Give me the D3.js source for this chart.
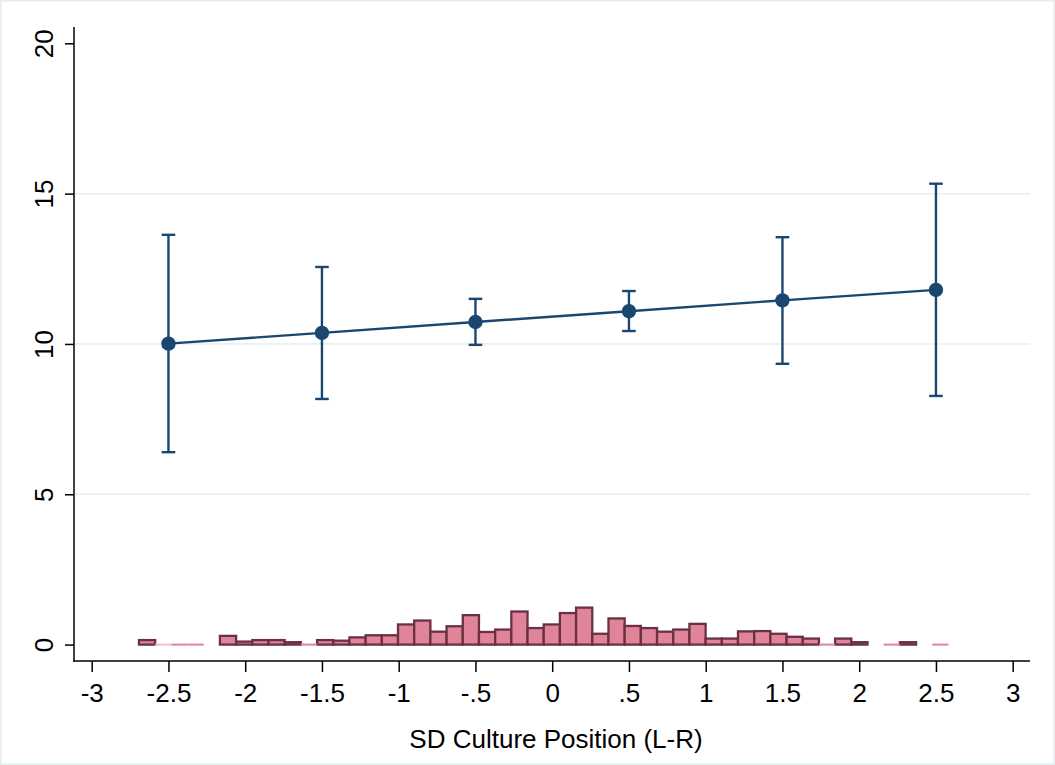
<!DOCTYPE html>
<html>
<head>
<meta charset="utf-8">
<script src="https://cdn.jsdelivr.net/npm/d3@7"></script>
<style>
  html, body { margin: 0; padding: 0; background: #ffffff; }
  svg { display: block; }
  text { font-family: "Liberation Sans", Arial, Helvetica, sans-serif; fill: #000; }
</style>
</head>
<body>
<svg id="chart" width="1055" height="765"></svg>
<script>
// Predicted values at each culture position, with 95% confidence limits
const positions = [-2.5, -1.5, -0.5, 0.5, 1.5, 2.5];
const estimates = [10.01, 10.37, 10.73, 11.09, 11.45, 11.80];
const ciLower   = [6.40, 8.17, 9.97, 10.43, 9.34, 8.27];
const ciUpper   = [13.63, 12.56, 11.50, 11.76, 13.55, 15.33];

// Distribution of culture position (histogram drawn along the bottom)
const binStart = -2.692;
const binWidth = 0.10547;
const binHeights = [
  0.15, 0, 0, 0, null, 0.29, 0.10, 0.15, 0.15, 0.08,
  0, 0.15, 0.13, 0.24, 0.31, 0.31, 0.67, 0.80, 0.43, 0.61,
  0.98, 0.42, 0.50, 1.10, 0.55, 0.67, 1.05, 1.23, 0.36, 0.87,
  0.62, 0.55, 0.43, 0.50, 0.69, 0.20, 0.20, 0.44, 0.45, 0.36,
  0.26, 0.20, 0, 0.20, 0.08, null, 0, 0.08, null, 0
];

// Axis ticks
const xTicks = [-3, -2.5, -2, -1.5, -1, -0.5, 0, 0.5, 1, 1.5, 2, 2.5, 3];
const xTickLabels = ["-3", "-2.5", "-2", "-1.5", "-1", "-.5", "0", ".5", "1", "1.5", "2", "2.5", "3"];
const yTicks = [0, 5, 10, 15, 20];
const yGrid = [5, 10, 15];
const xTitle = "SD Culture Position (L-R)";

const svg = d3.select("#chart");
const W = 1055, H = 765;
const fontSize = "26px";

// plot region edges
const plotLeft = 74, plotRight = 1030, plotTop = 27, plotBottom = 661;

const x = d3.scaleLinear().domain([-3, 3]).range([91.7, 1012.7]);
const y = d3.scaleLinear().domain([0, 20]).range([644.6, 43.3]);

const navy = "#1a476f";
const pinkFill = "#e0849a";
const maroon = "#6a3144";

// outer frame
svg.append("rect")
  .attr("x", 0.75).attr("y", 0.75)
  .attr("width", W - 1.5).attr("height", H - 1.5)
  .attr("fill", "#ffffff")
  .attr("stroke", "#e4ecef").attr("stroke-width", 1.5);

// horizontal gridlines
svg.append("g").selectAll("line")
  .data(yGrid).join("line")
  .attr("x1", plotLeft).attr("x2", plotRight)
  .attr("y1", d => y(d)).attr("y2", d => y(d))
  .attr("stroke", "#e6eef1").attr("stroke-width", 1.5);

// histogram
const bins = binHeights.map((h, i) => ({
  x0: binStart + i * binWidth,
  x1: binStart + (i + 1) * binWidth,
  h: h
}));

const hist = svg.append("g");
hist.selectAll("rect.bar")
  .data(bins.filter(b => b.h !== null && b.h > 0)).join("rect")
  .attr("class", "bar")
  .attr("x", d => x(d.x0))
  .attr("width", d => x(d.x1) - x(d.x0))
  .attr("y", d => y(d.h))
  .attr("height", d => y(0) - y(d.h))
  .attr("fill", pinkFill)
  .attr("stroke", maroon)
  .attr("stroke-width", 2.3);

// empty bins show only as a flat pink line on the baseline
hist.selectAll("line.empty")
  .data(bins.filter(b => b.h === 0)).join("line")
  .attr("class", "empty")
  .attr("x1", d => x(d.x0)).attr("x2", d => x(d.x1))
  .attr("y1", y(0)).attr("y2", y(0))
  .attr("stroke", (d, i) => i === 0 ? "#efc1cc" : pinkFill)
  .attr("stroke-width", 2);

// confidence intervals
const ci = svg.append("g").attr("stroke", navy).attr("stroke-width", 2.4).attr("fill", "none");
positions.forEach((p, i) => {
  ci.append("line")
    .attr("x1", x(p)).attr("x2", x(p))
    .attr("y1", y(ciLower[i])).attr("y2", y(ciUpper[i]));
  [ciLower[i], ciUpper[i]].forEach(v => {
    ci.append("line")
      .attr("x1", x(p) - 6.8).attr("x2", x(p) + 6.8)
      .attr("y1", y(v)).attr("y2", y(v));
  });
});

// connecting line
const line = d3.line().x(d => x(d[0])).y(d => y(d[1]));
svg.append("path")
  .datum(positions.map((p, i) => [p, estimates[i]]))
  .attr("d", line)
  .attr("fill", "none")
  .attr("stroke", navy)
  .attr("stroke-width", 2.4);

// point estimates
svg.append("g").selectAll("circle")
  .data(positions.map((p, i) => [p, estimates[i]])).join("circle")
  .attr("cx", d => x(d[0]))
  .attr("cy", d => y(d[1]))
  .attr("r", 7.2)
  .attr("fill", navy);

// y axis
const yAxis = svg.append("g").attr("transform", `translate(${plotLeft},0)`)
  .call(d3.axisLeft(y).tickValues(yTicks).tickSize(9).tickFormat(d3.format("d")));
yAxis.select(".domain").remove();
yAxis.selectAll(".tick line").attr("stroke", "#000").attr("stroke-width", 1.5);
yAxis.selectAll(".tick text")
  .attr("x", null).attr("dy", null)
  .attr("text-anchor", "middle")
  .attr("transform", "translate(-21,0) rotate(-90)")
  .style("font-size", fontSize)
  .style("font-family", "'Liberation Sans', Arial, sans-serif")
  .attr("fill", "#000");
svg.append("line")
  .attr("x1", plotLeft).attr("x2", plotLeft)
  .attr("y1", plotTop).attr("y2", plotBottom + 0.75)
  .attr("stroke", "#000").attr("stroke-width", 1.5);

// x axis
const xAxis = svg.append("g").attr("transform", `translate(0,${plotBottom})`)
  .call(d3.axisBottom(x).tickValues(xTicks).tickSize(11)
    .tickFormat((d, i) => xTickLabels[i]));
xAxis.select(".domain").remove();
xAxis.selectAll(".tick line").attr("stroke", "#000").attr("stroke-width", 1.5);
xAxis.selectAll(".tick text")
  .attr("y", 40.5).attr("dy", null)
  .style("font-size", fontSize)
  .style("font-family", "'Liberation Sans', Arial, sans-serif")
  .attr("fill", "#000");
svg.append("line")
  .attr("x1", plotLeft - 0.75).attr("x2", plotRight)
  .attr("y1", plotBottom).attr("y2", plotBottom)
  .attr("stroke", "#000").attr("stroke-width", 1.5);

// axis title
svg.append("text")
  .attr("x", 556).attr("y", 747.5)
  .attr("text-anchor", "middle")
  .style("font-size", fontSize)
  .text(xTitle);
</script>
</body>
</html>
